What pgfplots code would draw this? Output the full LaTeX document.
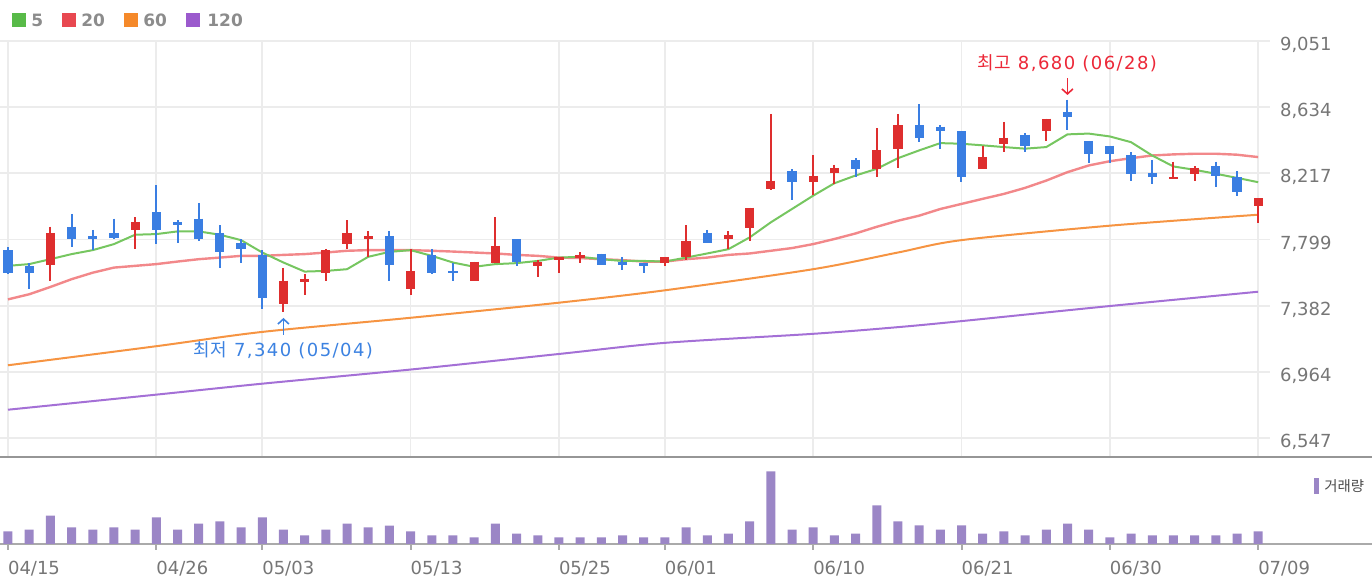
\documentclass[border=0pt]{standalone}
\usepackage{pgfplots}
\pgfplotsset{compat=1.18}
\usepackage{pgfplotstable}
\usepackage{fontspec}
\setmainfont{DejaVu Sans}
\newfontfamily\kr{Noto Sans CJK KR}
\newfontfamily\ann[LetterSpace=8]{DejaVu Sans}
\newfontfamily\legf{DejaVu Sans Bold}
\usetikzlibrary{arrows.meta}

\definecolor{upc}{RGB}{222,46,46}
\definecolor{dnc}{RGB}{58,126,226}
\definecolor{ma5}{RGB}{118,198,96}
\definecolor{ma20}{RGB}{240,115,118}
\definecolor{ma60}{RGB}{246,148,66}
\definecolor{ma120}{RGB}{164,112,214}
\definecolor{l5}{RGB}{88,186,72}
\definecolor{l20}{RGB}{232,72,80}
\definecolor{l60}{RGB}{245,137,42}
\definecolor{l120}{RGB}{155,90,205}
\definecolor{volc}{RGB}{155,134,198}
\definecolor{hic}{RGB}{236,40,56}
\definecolor{loc}{RGB}{60,130,225}
\definecolor{gridc}{RGB}{236,236,236}
\definecolor{tickc}{RGB}{118,118,118}
\definecolor{legtc}{RGB}{140,140,140}
\definecolor{sepc}{RGB}{150,150,150}
\definecolor{basec}{RGB}{170,170,170}

\pgfplotstableread{
i o h l c
2 7640 7880 7540 7840
6 7860 7940 7740 7910
13 7390 7620 7340 7540
14 7530 7580 7450 7550
15 7590 7740 7540 7730
16 7770 7920 7740 7840
17 7800 7850 7690 7820
19 7490 7740 7450 7600
22 7540 7660 7540 7660
23 7650 7940 7650 7760
25 7630 7670 7560 7660
26 7670 7690 7590 7690
27 7680 7720 7650 7700
31 7650 7690 7630 7690
32 7690 7890 7670 7790
34 7800 7850 7740 7830
35 7870 8000 7790 8000
36 8120 8590 8110 8170
38 8160 8330 8080 8200
39 8220 8270 8150 8250
41 8240 8500 8190 8360
42 8370 8590 8250 8520
46 8240 8390 8240 8320
47 8400 8540 8350 8440
49 8480 8560 8420 8560
55 8180 8290 8180 8190
56 8210 8260 8170 8250
59 8010 8060 7900 8060
}\upcandles

\pgfplotstableread{
i o h l c
0 7730 7750 7580 7590
1 7630 7650 7490 7590
3 7880 7960 7750 7800
4 7820 7860 7730 7800
5 7840 7930 7800 7810
7 7970 8140 7770 7860
8 7910 7920 7780 7890
9 7930 8030 7790 7800
10 7840 7890 7620 7720
11 7780 7800 7650 7740
12 7700 7730 7360 7430
18 7820 7850 7540 7640
20 7700 7740 7580 7590
21 7600 7650 7540 7590
24 7800 7800 7630 7660
28 7710 7710 7640 7640
29 7660 7690 7610 7640
30 7650 7650 7590 7630
33 7840 7860 7780 7780
37 8230 8240 8050 8160
40 8300 8310 8190 8240
43 8520 8650 8410 8440
44 8510 8520 8370 8480
45 8480 8480 8160 8190
48 8460 8470 8350 8390
50 8600 8680 8490 8570
51 8420 8420 8280 8340
52 8390 8390 8280 8340
53 8330 8350 8170 8210
54 8220 8300 8150 8190
57 8260 8290 8130 8200
58 8190 8230 8070 8100
}\dncandles

\pgfplotstableread{
i v
0 7633
1 7644
2 7675
3 7707
4 7732
5 7770
6 7829
7 7833
8 7850
9 7850
10 7829
11 7795
12 7717
13 7654
14 7597
15 7601
16 7612
17 7690
18 7721
19 7732
20 7696
21 7654
22 7627
23 7644
24 7650
25 7664
26 7685
27 7690
28 7675
29 7664
30 7664
31 7660
32 7685
33 7711
34 7738
35 7812
36 7907
37 7991
38 8075
39 8153
40 8202
41 8244
42 8311
43 8360
44 8406
45 8402
46 8392
47 8381
48 8371
49 8381
50 8461
51 8466
52 8448
53 8412
54 8328
55 8259
56 8238
57 8213
58 8187
59 8160
}\mafive

\pgfplotstableread{
i v
0 7422
1 7454
2 7500
3 7549
4 7590
5 7622
6 7633
7 7644
8 7660
9 7675
10 7685
11 7696
12 7696
13 7702
14 7707
15 7717
16 7728
17 7732
18 7732
19 7732
20 7728
21 7723
22 7717
23 7711
24 7702
25 7696
26 7685
27 7682
28 7675
29 7669
30 7660
31 7660
32 7675
33 7685
34 7702
35 7711
36 7728
37 7745
38 7770
39 7802
40 7837
41 7879
42 7917
43 7949
44 7991
45 8023
46 8055
47 8086
48 8124
49 8170
50 8223
51 8265
52 8292
53 8311
54 8328
55 8335
56 8339
57 8339
58 8333
59 8318
}\matwenty

\pgfplotstableread{
i v
0 7007
7 7127
12 7217
19 7306
26 7401
31 7479
38 7612
42 7717
45 7795
52 7886
59 7955
}\masixty

\pgfplotstableread{
i v
0 6727
7 6822
12 6891
19 6980
26 7078
31 7148
38 7205
42 7247
45 7285
52 7380
59 7470
}\maonetwenty

\pgfplotstableread{
i v
0 127
1 143
2 283
3 167
4 143
5 167
6 143
7 267
8 143
9 203
10 227
11 167
12 267
13 143
14 87
15 143
16 203
17 167
18 183
19 127
20 87
21 87
22 67
23 203
24 103
25 87
26 67
27 67
28 67
29 87
30 67
31 67
32 167
33 87
34 103
35 227
36 727
37 143
38 167
39 87
40 103
41 387
42 227
43 187
44 143
45 187
46 103
47 127
48 87
49 143
50 203
51 143
52 67
53 103
54 87
55 87
56 87
57 87
58 103
59 127
}\volume

\newcommand\tickfont{\fontsize{9}{10}\selectfont}

\begin{document}
\begin{tikzpicture}
\path[use as bounding box] (0,0) rectangle (686pt,294pt);

% ---------- price panel ----------
\begin{axis}[
  at={(0pt,65.5pt)}, anchor=south west, scale only axis,
  width=635pt, height=208.15pt,
  xmin=-0.3775, xmax=59.56, ymin=6429.3, ymax=9051,
  xtick={0,7,12,19,26,31,38,45,52,59}, xticklabels={},
  ytick={6547,6964,7382,7799,8217,8634,9051},
  yticklabel pos=right,
  xmajorgrids, ymajorgrids,
  major grid style={draw=gridc, line width=0.9pt},
  axis line style={draw=none},
  major tick length=0pt,
  /pgf/number format/.cd, 1000 sep={,}, assume math mode=true,
  /pgfplots/.cd,
  yticklabel style={font=\tickfont, text=tickc, anchor=west, xshift=1.5pt, yshift=-2pt},
  clip=false,
]
\addplot[ma120, line width=1pt, smooth, mark=none] table[x=i, y=v] {\maonetwenty};
\addplot[ma60, line width=1pt, smooth, mark=none] table[x=i, y=v] {\masixty};
\addplot[ma20, line width=1.2pt, opacity=0.85, mark=none] table[x=i, y=v] {\matwenty};
\addplot[ma5, line width=1pt, mark=none] table[x=i, y=v] {\mafive};

% wicks
\addplot[draw=none, mark=none, forget plot,
  error bars/.cd, y dir=minus, y explicit, error mark=none,
  error bar style={draw=upc, line width=1pt}]
  table[x=i, y=h, y error minus expr=\thisrow{h}-\thisrow{l}] {\upcandles};
\addplot[draw=none, mark=none, forget plot,
  error bars/.cd, y dir=minus, y explicit, error mark=none,
  error bar style={draw=dnc, line width=1pt}]
  table[x=i, y=h, y error minus expr=\thisrow{h}-\thisrow{l}] {\dncandles};
% bodies
\addplot[draw=none, mark=none, forget plot,
  error bars/.cd, y dir=minus, y explicit, error mark=none,
  error bar style={draw=upc, line width=4.6pt}]
  table[x=i, y=c, y error minus expr=\thisrow{c}-\thisrow{o}] {\upcandles};
\addplot[draw=none, mark=none, forget plot,
  error bars/.cd, y dir=minus, y explicit, error mark=none,
  error bar style={draw=dnc, line width=4.6pt}]
  table[x=i, y=o, y error minus expr=\thisrow{o}-\thisrow{c}] {\dncandles};

% annotations
\draw[hic, line width=0.8pt, -{Straight Barb[length=2.5pt,width=5.5pt]}] (axis cs:50,8816) -- (axis cs:50,8709);
\node[text=hic, font=\tickfont, inner sep=0pt] at (axis cs:50,8907) {{\kr 최고}\hspace{3.5pt}{\ann 8,680 (06/28)}};
\draw[loc, line width=0.8pt, -{Straight Barb[length=2.5pt,width=5.5pt]}] (axis cs:13,7198) -- (axis cs:13,7305);
\node[text=loc, font=\tickfont, inner sep=0pt] at (axis cs:13,7103) {{\kr 최저}\hspace{3.5pt}{\ann 7,340 (05/04)}};
\end{axis}

% ---------- volume panel ----------
\begin{axis}[
  at={(0pt,22pt)}, anchor=south west, scale only axis,
  width=686pt, height=43pt,
  xmin=-0.3775, xmax=64.37, ymin=0, ymax=860,
  axis x line*=bottom,
  axis y line=none,
  x axis line style={draw=basec, line width=1pt, -},
  xtick={0,7,12,19,26,31,38,45,52,59},
  xticklabels={04/15,04/26,05/03,05/13,05/25,06/01,06/10,06/21,06/30,07/09},
  xtick align=outside,
  major tick length=3pt,
  xtick style={draw=basec, line width=1pt},
  xticklabel style={font=\tickfont, text=tickc, anchor=north west, xshift=-3.5pt, yshift=-2pt},
  ytick=\empty,
  clip=false,
]
\addplot[ybar, bar width=4.5pt, fill=volc, draw=none] table[x=i, y=v] {\volume};
\end{axis}

% separator between panels
\draw[sepc, line width=1.3pt] (0pt,65.5pt) -- (686pt,65.5pt);

% volume legend
\fill[volc] (657pt,47pt) rectangle (659.5pt,55pt);
\node[anchor=west, inner sep=0pt, text=black!70, font=\fontsize{7.2}{8}\selectfont\kr] at (662pt,51pt) {거래량};

% MA legend
\fill[l5] (6pt,280.5pt) rectangle (13pt,287.5pt);
\node[anchor=west, inner sep=0pt, text=legtc, font=\fontsize{8.5}{9}\selectfont\legf] at (15.5pt,284pt) {5};
\fill[l20] (31pt,280.5pt) rectangle (38pt,287.5pt);
\node[anchor=west, inner sep=0pt, text=legtc, font=\fontsize{8.5}{9}\selectfont\legf] at (40.5pt,284pt) {20};
\fill[l60] (62pt,280.5pt) rectangle (69pt,287.5pt);
\node[anchor=west, inner sep=0pt, text=legtc, font=\fontsize{8.5}{9}\selectfont\legf] at (71.5pt,284pt) {60};
\fill[l120] (93pt,280.5pt) rectangle (100pt,287.5pt);
\node[anchor=west, inner sep=0pt, text=legtc, font=\fontsize{8.5}{9}\selectfont\legf] at (103.5pt,284pt) {120};
\end{tikzpicture}
\end{document}
